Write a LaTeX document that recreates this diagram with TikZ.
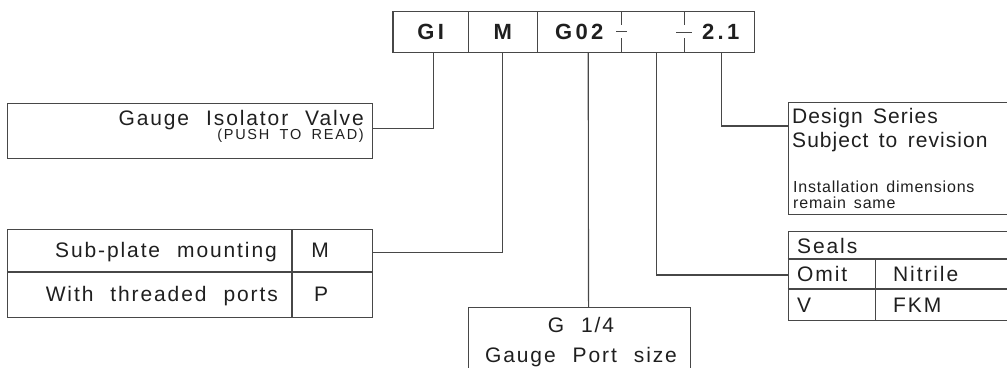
\documentclass[tikz,border=0pt]{standalone}
\usepackage{fontspec}
\setmainfont{Liberation Sans}
\newfontfamily\txtf{Liberation Sans}[LetterSpace=9,WordSpace=2.2]
\newfontfamily\tgtf{Liberation Sans}[LetterSpace=5,WordSpace=2.0]
\newfontfamily\pshf{Liberation Sans}[LetterSpace=12,WordSpace=1.8]
\newfontfamily\smlf{Liberation Sans}[LetterSpace=5,WordSpace=1.5]
\newfontfamily\hdrf{Liberation Sans}[LetterSpace=15,WordSpace=2]
\definecolor{lncol}{gray}{0.28}
\definecolor{txtcol}{gray}{0.12}
\tikzset{
  ln/.style={draw=lncol, line width=1.1bp},
  box/.style={ln, rectangle, inner sep=0pt, anchor=north west},
  hcell/.style={rectangle, inner sep=0pt, anchor=west, minimum height=41bp,
    text=txtcol, font=\hdrf\bfseries\fontsize{22bp}{26bp}\selectfont},
  txt/.style={inner sep=0pt, text=txtcol, font=\txtf\fontsize{21bp}{25bp}\selectfont},
  ttxt/.style={inner sep=0pt, text=txtcol, font=\tgtf\fontsize{21bp}{25bp}\selectfont},
  stxt/.style={inner sep=0pt, text=txtcol, font=\pshf\fontsize{14.5bp}{17bp}\selectfont},
  itxt/.style={inner sep=0pt, text=txtcol, font=\smlf\fontsize{16bp}{19bp}\selectfont},
}
\begin{document}
\begin{tikzpicture}[x=1bp,y=-1bp]
\useasboundingbox (0,0) rectangle (1007,367);
\clip (0,0) rectangle (1007,367);

% header cells
\node[hcell, minimum width=75bp] (gi) at (393,31.75) {GI};
\node[hcell, minimum width=69bp] (m) at (468,31.75) {M};
\node[hcell, minimum width=84bp] (g02) at (537,31.75) {G02\hspace{6bp}};
\node[hcell, minimum width=63bp] (blank) at (621,31.75) {};
\node[hcell, minimum width=70bp] (v21) at (684,31.75) {\hspace{3bp}2.1};
\draw[ln] (gi.north west) rectangle (v21.south east);
\draw[ln] (gi.north east) -- (gi.south east);
\draw[ln] (m.north east) -- (m.south east);
\draw[ln] (g02.north east) -- ++(0,14);
\draw[ln] (g02.south east) -- ++(0,-14);
\draw[ln] ([xshift=-5bp]g02.east) -- ++(11,0);
\draw[ln] (blank.north east) -- ++(0,14);
\draw[ln] (blank.south east) -- ++(0,-14);
\draw[ln] ([xshift=-8bp,yshift=-1bp]blank.east) -- ++(16,0);

% Gauge isolator valve
\node[box, minimum width=365bp, minimum height=55bp] (iso) at (7,103) {};
\node[txt, anchor=base east] (isot) at (364,125) {Gauge Isolator Valve};
\node[stxt, anchor=base east] (isos) at (364,139.5) {(PUSH TO READ)};

% mounting
\node[box, minimum width=365bp, minimum height=88bp] (sub) at (7,229) {};
\draw[ln] ([yshift=-43bp]sub.north west) -- ([yshift=-43bp]sub.north east);
\draw[ln] ([xshift=285bp]sub.north west) -- ([xshift=285bp]sub.south west);
\node[txt, anchor=base east] (subt) at (277,257) {Sub-plate mounting};
\node[txt, anchor=base east] (thrt) at (278,301) {With threaded ports};
\node[txt, anchor=base] (mt) at (320,257) {M};
\node[txt, anchor=base] (pt) at (321,301) {P};

% gauge port size
\node[box, minimum width=222bp, minimum height=80bp] (port) at (468,307) {};
\node[txt, anchor=base] (portt) at (581,332) {G 1/4};
\node[txt, anchor=base] (ports) at (581,362) {Gauge Port size};

% design series
\node[box, minimum width=240bp, minimum height=112bp] (design) at (787.5,102) {};
\node[ttxt, anchor=base west] (des1) at (792,123) {Design Series};
\node[ttxt, anchor=base west] (des2) at (792,147.5) {Subject to revision};
\node[itxt, anchor=base west] (des3) at (793,192) {Installation dimensions};
\node[itxt, anchor=base west] (des4) at (793,208) {remain same};

% seals
\node[box, minimum width=240bp, minimum height=89bp] (seals) at (787.5,231) {};
\draw[ln] ([yshift=-28bp]seals.north west) -- ([yshift=-28bp]seals.north east);
\draw[ln] ([yshift=-58bp]seals.north west) -- ([yshift=-58bp]seals.north east);
\draw[ln] ([xshift=88bp,yshift=-28bp]seals.north west) -- ([xshift=88bp]seals.south west);
\node[txt, anchor=base west] (sealt) at (797,253) {Seals};
\node[txt, anchor=base west] (omit) at (797,281) {Omit};
\node[txt, anchor=base west] (nitr) at (893,281) {Nitrile};
\node[txt, anchor=base west] (vt) at (797,312.5) {V};
\node[txt, anchor=base west] (fkm) at (893,312.5) {FKM};

% connectors
\draw[ln] ([yshift=2.5bp]iso.east) -| ([xshift=2.5bp]gi.south);
\draw[ln] ([yshift=21bp]sub.east) -| (m.south);
\draw[ln] ([xshift=9bp]g02.south) -- ([xshift=9bp]port.north);
\draw[ln] ([xshift=3.5bp]blank.south) |- ([yshift=-44bp]seals.north west);
\draw[ln] ([xshift=2bp]v21.south) |- ([yshift=-24bp]design.north west);
\end{tikzpicture}
\end{document}
